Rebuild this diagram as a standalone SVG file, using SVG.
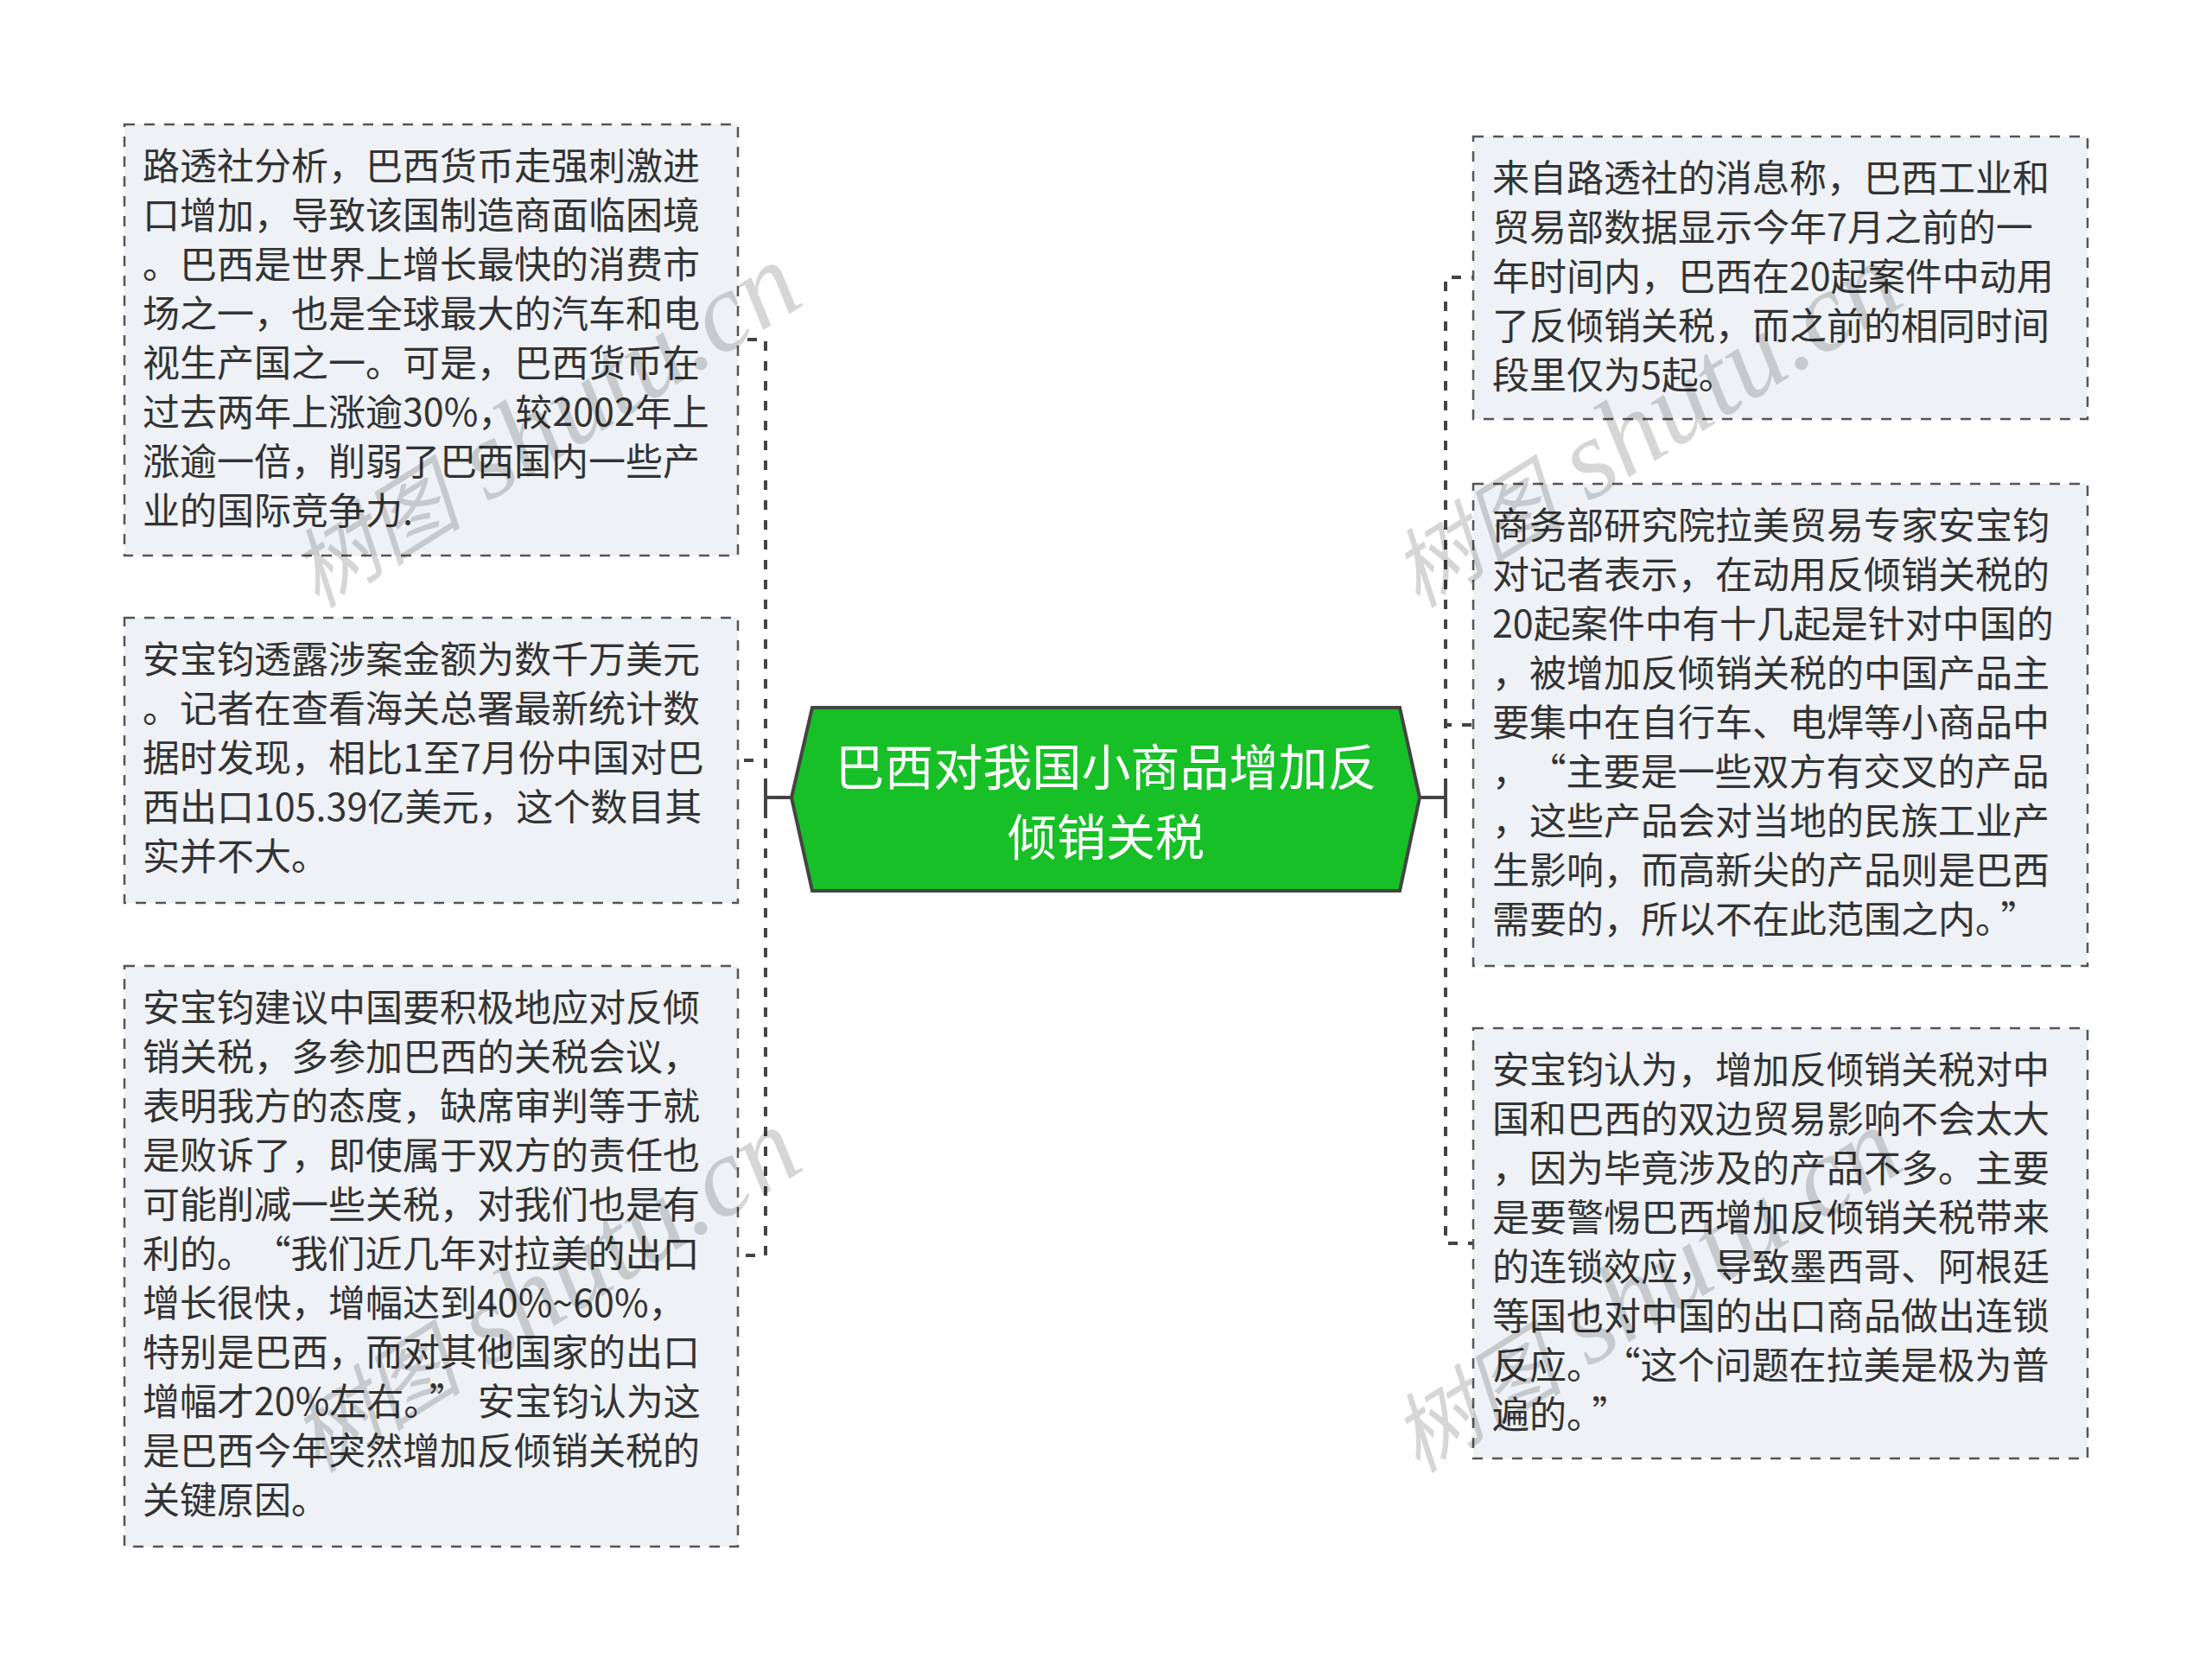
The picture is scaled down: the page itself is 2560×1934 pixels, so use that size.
<svg xmlns="http://www.w3.org/2000/svg" width="2560" height="1934" viewBox="0 0 2560 1934">
<style>
.box{fill:#eef1f5;stroke:#555;stroke-width:2.5;stroke-dasharray:12 11}
.t{font-family:"Noto Sans CJK SC","Noto Sans",sans-serif;font-size:43px;fill:#333}
.title{font-family:"Noto Sans CJK SC","Noto Sans",sans-serif;font-size:57px;fill:#fff;text-anchor:middle}
.con{fill:none;stroke:#444;stroke-width:4;stroke-dasharray:11 12}
.solid{fill:none;stroke:#444;stroke-width:4}
.wm{font-family:"Liberation Serif","Noto Sans CJK SC",serif;font-style:italic;fill:#000;fill-opacity:0.16}
</style>
<rect width="2560" height="1934" fill="#fff"/>
<g id="connectors">
<path class="solid" d="M916 923 H886 M886 912 V936 M1643 923 H1673 M1673 912 V936"/>
<path class="con" d="M886 912 V393 H854"/>
<path class="con" d="M886 912 V880 H854"/>
<path class="con" d="M886 936 V1453 H854"/>
<path class="con" d="M1673 912 V321 H1705"/>
<path class="con" d="M1673 912 V839 H1705"/>
<path class="con" d="M1673 936 V1439 H1705"/>
</g>
<g id="center">
<polygon points="940,819 1620,819 1643,923 1620,1031 940,1031 916,923" fill="#16c026" stroke="#444" stroke-width="4"/>
<text class="title" x="1280" y="909">巴西对我国小商品增加反</text>
<text class="title" x="1280" y="990">倾销关税</text>
</g>
<g id="left1">
<rect class="box" x="144" y="144" width="710" height="499"/>
<text class="t" x="165" y="208">路透社分析，巴西货币走强刺激进</text>
<text class="t" x="165" y="265">口增加，导致该国制造商面临困境</text>
<text class="t" x="165" y="322">。巴西是世界上增长最快的消费市</text>
<text class="t" x="165" y="379">场之一，也是全球最大的汽车和电</text>
<text class="t" x="165" y="436">视生产国之一。可是，巴西货币在</text>
<text class="t" x="165" y="493">过去两年上涨逾30%，较2002年上</text>
<text class="t" x="165" y="550">涨逾一倍，削弱了巴西国内一些产</text>
<text class="t" x="165" y="607">业的国际竞争力.</text>
</g>
<g id="left2">
<rect class="box" x="144" y="715" width="710" height="330"/>
<text class="t" x="165" y="779">安宝钧透露涉案金额为数千万美元</text>
<text class="t" x="165" y="836">。记者在查看海关总署最新统计数</text>
<text class="t" x="165" y="893">据时发现，相比1至7月份中国对巴</text>
<text class="t" x="165" y="950">西出口105.39亿美元，这个数目其</text>
<text class="t" x="165" y="1007">实并不大。</text>
</g>
<g id="left3">
<rect class="box" x="144" y="1118" width="710" height="672"/>
<text class="t" x="165" y="1182">安宝钧建议中国要积极地应对反倾</text>
<text class="t" x="165" y="1239">销关税，多参加巴西的关税会议，</text>
<text class="t" x="165" y="1296">表明我方的态度，缺席审判等于就</text>
<text class="t" x="165" y="1353">是败诉了，即使属于双方的责任也</text>
<text class="t" x="165" y="1410">可能削减一些关税，对我们也是有</text>
<text class="t" x="165" y="1467">利的。<tspan dx="21">“</tspan>我们近几年对拉美的出口</text>
<text class="t" x="165" y="1524">增长很快，增幅达到40%~60%，</text>
<text class="t" x="165" y="1581">特别是巴西，而对其他国家的出口</text>
<text class="t" x="165" y="1638">增幅才20%左右。<tspan dx="8">”</tspan><tspan dx="13">安宝钧认为这</tspan></text>
<text class="t" x="165" y="1695">是巴西今年突然增加反倾销关税的</text>
<text class="t" x="165" y="1752">关键原因。</text>
</g>
<g id="right1">
<rect class="box" x="1705" y="158" width="711" height="327"/>
<text class="t" x="1727" y="222">来自路透社的消息称，巴西工业和</text>
<text class="t" x="1727" y="279">贸易部数据显示今年7月之前的一</text>
<text class="t" x="1727" y="336">年时间内，巴西在20起案件中动用</text>
<text class="t" x="1727" y="393">了反倾销关税，而之前的相同时间</text>
<text class="t" x="1727" y="450">段里仅为5起。</text>
</g>
<g id="right2">
<rect class="box" x="1705" y="560" width="711" height="558"/>
<text class="t" x="1727" y="624">商务部研究院拉美贸易专家安宝钧</text>
<text class="t" x="1727" y="681">对记者表示，在动用反倾销关税的</text>
<text class="t" x="1727" y="738">20起案件中有十几起是针对中国的</text>
<text class="t" x="1727" y="795">，被增加反倾销关税的中国产品主</text>
<text class="t" x="1727" y="852">要集中在自行车、电焊等小商品中</text>
<text class="t" x="1727" y="909">，<tspan dx="21">“</tspan>主要是一些双方有交叉的产品</text>
<text class="t" x="1727" y="966">，这些产品会对当地的民族工业产</text>
<text class="t" x="1727" y="1023">生影响，而高新尖的产品则是巴西</text>
<text class="t" x="1727" y="1080">需要的，所以不在此范围之内。<tspan dx="8">”</tspan></text>
</g>
<g id="right3">
<rect class="box" x="1705" y="1190" width="711" height="498"/>
<text class="t" x="1727" y="1254">安宝钧认为，增加反倾销关税对中</text>
<text class="t" x="1727" y="1311">国和巴西的双边贸易影响不会太大</text>
<text class="t" x="1727" y="1368">，因为毕竟涉及的产品不多。主要</text>
<text class="t" x="1727" y="1425">是要警惕巴西增加反倾销关税带来</text>
<text class="t" x="1727" y="1482">的连锁效应，导致墨西哥、阿根廷</text>
<text class="t" x="1727" y="1539">等国也对中国的出口商品做出连锁</text>
<text class="t" x="1727" y="1596">反应。<tspan dx="21">“</tspan>这个问题在拉美是极为普</text>
<text class="t" x="1727" y="1653">遍的。<tspan dx="8">”</tspan></text>
</g>
<g id="watermarks">
<text class="wm" transform="translate(367,705) rotate(-32)"><tspan font-size="100">树图</tspan><tspan font-size="130"> shutu.cn</tspan></text>
<text class="wm" transform="translate(1641,705) rotate(-32)"><tspan font-size="100">树图</tspan><tspan font-size="130"> shutu.cn</tspan></text>
<text class="wm" transform="translate(367,1706) rotate(-32)"><tspan font-size="100">树图</tspan><tspan font-size="130"> shutu.cn</tspan></text>
<text class="wm" transform="translate(1641,1706) rotate(-32)"><tspan font-size="100">树图</tspan><tspan font-size="130"> shutu.cn</tspan></text>
</g>
</svg>
